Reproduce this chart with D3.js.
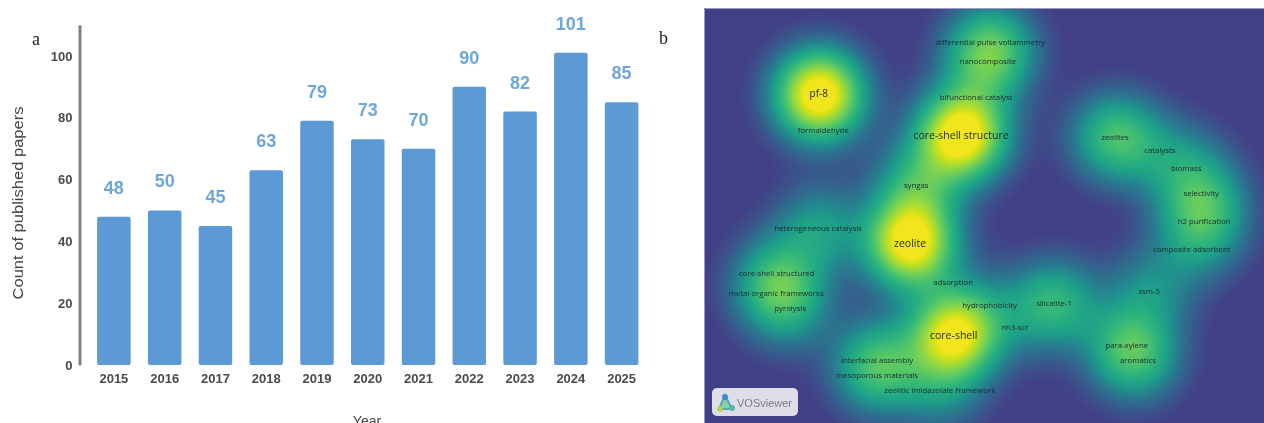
<!DOCTYPE html>
<html>
<head>
<meta charset="utf-8">
<script src="https://cdn.jsdelivr.net/npm/d3@7"></script>
<style>
  html, body { margin: 0; padding: 0; background: #fff; overflow: hidden; }
  #stage { position: relative; width: 1264px; height: 423px; overflow: hidden; }
  #density { position: absolute; left: 704px; top: 8px; }
  #overlay { position: absolute; left: 0; top: 0; }
  text { font-family: "Liberation Sans", Arial, sans-serif; }
  .soft { filter: blur(0.5px); }
</style>
</head>
<body>
<div id="stage">
  <canvas id="density" width="560" height="415"></canvas>
  <svg id="overlay" width="1264" height="423"></svg>
</div>
<script>
// Bar chart data
const years = ["2015", "2016", "2017", "2018", "2019", "2020", "2021", "2022", "2023", "2024", "2025"];
const papers = [48, 50, 45, 63, 79, 73, 70, 90, 82, 101, 85];
const yTicks = [0, 20, 40, 60, 80, 100];

// Keyword map data, map units are 0-100 on both directions
const terms = ["differential pulse voltammetry", "nanocomposite", "bifunctional catalyst", "pf-8", "formaldehyde",
  "core-shell structure", "zeolites", "catalysts", "biomass", "selectivity", "h2 purification", "composite adsorbent",
  "syngas", "heterogeneous catalysis", "zeolite", "core-shell structured", "metal organic frameworks", "pyrolysis",
  "adsorption", "hydrophobicity", "silicalite-1", "nh3-scr", "core-shell", "zsm-5", "para-xylene", "aromatics",
  "interfacial assembly", "mesoporous materials", "zeolitic imidazolate framework"];
const termX = [51.1, 50.7, 48.6, 20.5, 21.3, 45.9, 73.4, 81.4, 86.1, 88.8, 89.3, 87.1, 37.9, 20.4, 36.8, 13, 12.9, 15.4,
  44.5, 51, 62.5, 55.5, 44.6, 79.5, 75.5, 77.5, 30.9, 30.9, 42.1];
const termY = [8.2, 12.8, 21.4, 20.7, 29.4, 30.6, 31.1, 34.2, 38.6, 44.6, 51.3, 58.1, 42.7, 53, 56.6, 63.9, 68.7, 72.3,
  66, 71.6, 71.1, 76.9, 78.8, 68.2, 81.2, 84.8, 84.8, 88.4, 92];
const termWeight = [.36, .38, .05, 1.12, .03, 1.12, .55, .12, .2, .25, .35, .15, .42, .34, 1.08, .28, .28, .22, .03, .12, .48, .06, 1, .26, .36, .3, .36, .25, .25];
const bigTerms = ["core-shell structure", "zeolite", "core-shell"];

const svg = d3.select("#overlay");
const barBlue = "#5b9ad5";

// ---- panel a ----
const chart = svg.append("g").attr("class", "soft");

const xScale = d3.scaleBand()
    .domain(years)
    .range([88.5, 647])
    .paddingInner(0.34)
    .paddingOuter(0.17);
const yScale = d3.scaleLinear()
    .domain([0, 110])
    .range([365, 25]);

chart.selectAll("rect.bar")
    .data(papers)
    .enter().append("rect")
    .attr("class", "bar")
    .attr("x", (d, i) => xScale(years[i]))
    .attr("y", d => yScale(d))
    .attr("width", xScale.bandwidth())
    .attr("height", d => yScale(0) - yScale(d))
    .attr("rx", 2)
    .attr("fill", barBlue);

chart.selectAll("text.value")
    .data(papers)
    .enter().append("text")
    .attr("class", "value")
    .attr("x", (d, i) => xScale(years[i]) + xScale.bandwidth() / 2)
    .attr("y", d => yScale(d) - 23)
    .attr("text-anchor", "middle")
    .attr("font-size", 18)
    .attr("font-weight", "bold")
    .attr("fill", "#6ea6da")
    .text(d => d);

// Y axis
const yAxis = chart.append("g")
    .attr("transform", "translate(79.5,0)")
    .call(d3.axisLeft(yScale).tickValues(yTicks).tickSize(0).tickPadding(7));
yAxis.select(".domain").attr("stroke", "#808080").attr("stroke-width", 3);
yAxis.selectAll("text").attr("font-size", 13).attr("font-weight", "bold").attr("fill", "#4a4a4a")
    .style("font-family", '"Liberation Sans", Arial, sans-serif');

// X axis
const xAxis = chart.append("g")
    .attr("transform", "translate(0,365)")
    .call(d3.axisBottom(xScale).tickSize(0).tickPadding(9));
xAxis.select(".domain").remove();
xAxis.selectAll("text").attr("font-size", 13).attr("font-weight", "bold").attr("fill", "#4a4a4a")
    .style("font-family", '"Liberation Sans", Arial, sans-serif');

chart.append("text")
    .attr("transform", "translate(23,203) rotate(-90)")
    .attr("text-anchor", "middle")
    .attr("font-size", 14)
    .attr("textLength", 193)
    .attr("lengthAdjust", "spacingAndGlyphs")
    .attr("fill", "#444")
    .text("Count of published papers");

chart.append("text")
    .attr("x", 367)
    .attr("y", 426)
    .attr("text-anchor", "middle")
    .attr("font-size", 14)
    .attr("fill", "#444")
    .text("Year");

svg.append("text").attr("x", 32).attr("y", 45).attr("font-size", 18).attr("fill", "#222")
    .style("font-family", '"Liberation Serif", serif').text("a");
svg.append("text").attr("x", 659).attr("y", 44).attr("font-size", 18).attr("fill", "#222")
    .style("font-family", '"Liberation Serif", serif').text("b");

// ---- panel b ----
const mapWidth = 560, mapHeight = 415, mapLeft = 704, mapTop = 8;
const mapX = d3.scaleLinear().domain([0, 100]).range([0, mapWidth]);
const mapY = d3.scaleLinear().domain([0, 100]).range([0, mapHeight]);
const sigma = 30;

// Low end of viridis is cut off, the empty part of the map stays flat indigo
const heat = d3.scaleLinear().domain([0.03, 0.35, 1]).range([0.19, 0.56, 0.98]).clamp(true);

// Sum of a gaussian per keyword, painted pixel by pixel
const ctx = document.getElementById("density").getContext("2d");
const image = ctx.createImageData(mapWidth, mapHeight);
const centres = terms.map((t, i) => ({ x: mapX(termX[i]), y: mapY(termY[i]), w: termWeight[i] }));
for (let py = 0; py < mapHeight; py++) {
    for (let px = 0; px < mapWidth; px++) {
        let sum = 0;
        centres.forEach(c => {
            const dx = px - c.x, dy = py - c.y;
            sum += c.w * Math.exp(-(dx * dx + dy * dy) / (2 * sigma * sigma));
        });
        const col = d3.rgb(d3.interpolateViridis(heat(sum)));
        const k = (py * mapWidth + px) * 4;
        image.data[k] = col.r;
        image.data[k + 1] = col.g;
        image.data[k + 2] = col.b;
        image.data[k + 3] = 255;
    }
}
ctx.putImageData(image, 0, 0);

const map = svg.append("g")
    .attr("class", "soft")
    .attr("transform", `translate(${mapLeft},${mapTop})`);

map.append("path")
    .attr("d", `M0.5 ${mapHeight} V0.5 H${mapWidth}`)
    .attr("fill", "none")
    .attr("stroke", "#9c9ac4");

map.selectAll("text.term")
    .data(terms)
    .enter().append("text")
    .attr("class", "term")
    .attr("x", (d, i) => mapX(termX[i]))
    .attr("y", (d, i) => mapY(termY[i]))
    .attr("dy", "0.35em")
    .attr("text-anchor", "middle")
    .attr("font-size", d => bigTerms.includes(d) ? 10.5 : (d === "pf-8" ? 10 : 7.8))
    .attr("fill", "#1a2a30")
    .style("font-family", '"Open Sans", sans-serif')
    .text(d => d);

// VOSviewer badge
const badge = svg.append("g").attr("class", "soft").attr("transform", "translate(712,388)");
badge.append("rect").attr("width", 86).attr("height", 28).attr("rx", 5).attr("fill", "#dedde8");
badge.append("path").attr("d", "M13 7 L20 21 L7 21 Z").attr("fill", "#8fcf9a").attr("stroke", "#4fa8c8").attr("stroke-width", 2);
badge.append("circle").attr("cx", 13).attr("cy", 9).attr("r", 3).attr("fill", "#3a8fc4");
badge.append("circle").attr("cx", 8).attr("cy", 21).attr("r", 3).attr("fill", "#a6d854");
badge.append("circle").attr("cx", 20).attr("cy", 20).attr("r", 3).attr("fill", "#56b7a8");
badge.append("text").attr("x", 25).attr("y", 19).attr("font-size", 11).attr("fill", "#7d7d88").text("VOSviewer");
</script>
</body>
</html>
